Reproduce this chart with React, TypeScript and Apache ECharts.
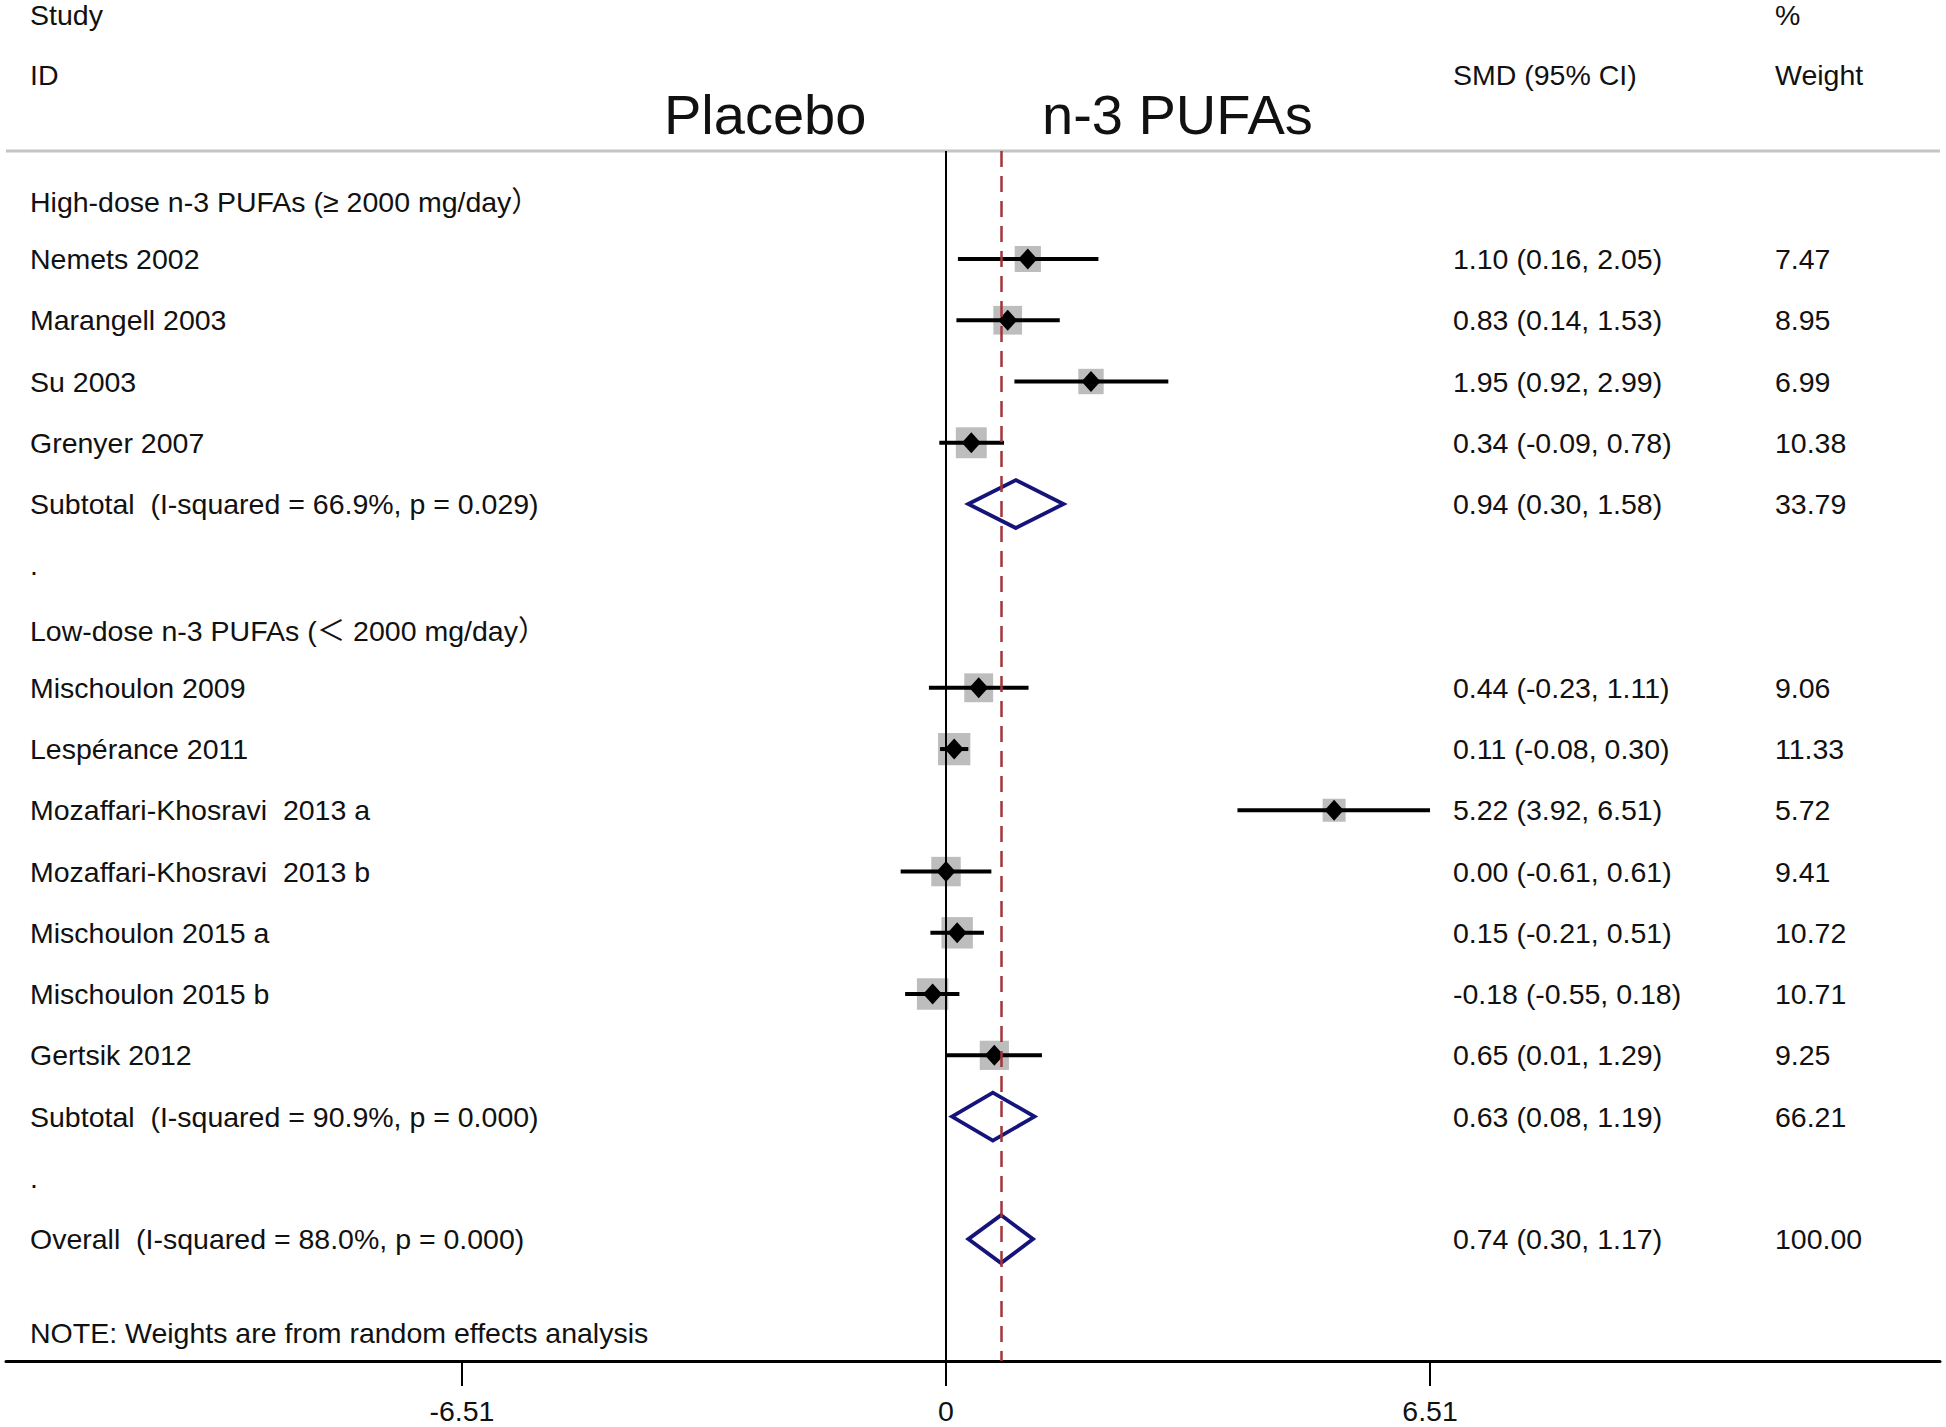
import React, { useEffect, useRef } from "react";
import * as echarts from "echarts";

// ---- data ----
const rowLabels = [
  "High-dose n-3 PUFAs (≥ 2000 mg/day）",
  "Nemets 2002",
  "Marangell 2003",
  "Su 2003",
  "Grenyer 2007",
  "Subtotal  (I-squared = 66.9%, p = 0.029)",
  ".",
  "Low-dose n-3 PUFAs (＜ 2000 mg/day）",
  "Mischoulon 2009",
  "Lespérance 2011",
  "Mozaffari-Khosravi  2013 a",
  "Mozaffari-Khosravi  2013 b",
  "Mischoulon 2015 a",
  "Mischoulon 2015 b",
  "Gertsik 2012",
  "Subtotal  (I-squared = 90.9%, p = 0.000)",
  ".",
  "Overall  (I-squared = 88.0%, p = 0.000)",
];
const headerRows = [0, 7];

const studyRows = [1, 2, 3, 4, 8, 9, 10, 11, 12, 13, 14];
const studySMD = [1.1, 0.83, 1.95, 0.34, 0.44, 0.11, 5.22, 0.0, 0.15, -0.18, 0.65];
const studyLo = [0.16, 0.14, 0.92, -0.09, -0.23, -0.08, 3.92, -0.61, -0.21, -0.55, 0.01];
const studyHi = [2.05, 1.53, 2.99, 0.78, 1.11, 0.3, 6.51, 0.61, 0.51, 0.18, 1.29];
const studyWeight = [7.47, 8.95, 6.99, 10.38, 9.06, 11.33, 5.72, 9.41, 10.72, 10.71, 9.25];

const pooledRows = [5, 15, 17];
const pooledSMD = [0.94, 0.63, 0.74];
const pooledLo = [0.3, 0.08, 0.3];
const pooledHi = [1.58, 1.19, 1.17];
const pooledWeight = [33.79, 66.21, 100.0];

const overallEffect = 0.74;
const tickValues = [-6.51, 0, 6.51];
const tickLabels = ["-6.51", "0", "6.51"];

const FONT = "'Liberation Sans', Arial, 'Noto Sans CJK SC', sans-serif";

export default function App() {
  const ref = useRef<HTMLDivElement>(null);

  useEffect(() => {
    const chart = echarts.init(ref.current!, null, { renderer: "svg" });

    const fmt = (s: number, l: number, h: number) =>
      `${s.toFixed(2)} (${l.toFixed(2)}, ${h.toFixed(2)})`;

    const tableData = rowLabels.map((lab, r) => {
      let smdText = "";
      let wText = "";
      const si = studyRows.indexOf(r);
      const pi = pooledRows.indexOf(r);
      if (si >= 0) {
        smdText = fmt(studySMD[si], studyLo[si], studyHi[si]);
        wText = studyWeight[si].toFixed(2);
      } else if (pi >= 0) {
        smdText = fmt(pooledSMD[pi], pooledLo[pi], pooledHi[pi]);
        wText = pooledWeight[pi].toFixed(2);
      }
      return { value: [0, r], lab, smdText, wText, header: headerRows.indexOf(r) >= 0 };
    });

    const studyData = studyRows.map((r, i) => [studySMD[i], r, studyLo[i], studyHi[i], studyWeight[i]]);
    const pooledData = pooledRows.map((r, i) => [pooledSMD[i], r, pooledLo[i], pooledHi[i]]);

    const NAME_X = 30;
    const SMD_X = 1453;
    const W_X = 1775;
    const FS = 28.5;
    const txt = (text: string, x: number, y: number, size = FS) => ({
      type: "text",
      x,
      y,
      style: {
        text,
        fontSize: size,
        fontFamily: FONT,
        fill: "#111",
        align: "left",
        verticalAlign: "middle",
      },
    });

    const option: any = {
      animation: false,
      backgroundColor: "#fff",
      grid: { left: 6, right: 6, top: 151, bottom: 66, containLabel: false },
      xAxis: {
        type: "value",
        min: -12.643,
        max: 13.369,
        splitLine: { show: false },
        axisLine: { show: true, onZero: false, lineStyle: { color: "#000", width: 3 } },
        axisTick: {
          show: true,
          customValues: tickValues,
          length: 25,
          lineStyle: { color: "#000", width: 2 },
        },
        axisLabel: {
          customValues: tickValues,
          margin: 36,
          fontSize: FS,
          fontFamily: FONT,
          color: "#111",
          formatter: (v: number) => {
            let best = 0;
            tickValues.forEach((t, i) => {
              if (Math.abs(t - v) < Math.abs(tickValues[best] - v)) best = i;
            });
            return tickLabels[best];
          },
        },
      },
      yAxis: {
        type: "value",
        inverse: true,
        min: -0.763,
        max: 18.99,
        show: false,
      },
      graphic: [
        txt("Study", NAME_X, 15),
        txt("ID", NAME_X, 75),
        txt("SMD (95% CI)", SMD_X, 75),
        txt("%", W_X, 15),
        txt("Weight", W_X, 75),
        txt("Placebo", 664, 114, 56),
        txt("n-3 PUFAs", 1042, 114, 56),
        txt("NOTE: Weights are from random effects analysis", NAME_X, 1333),
        {
          type: "line",
          shape: { x1: 6, y1: 151, x2: 1940, y2: 151 },
          style: { stroke: "#c4c4c4", lineWidth: 3 },
        },
      ],
      series: [
        {
          type: "line",
          data: [],
          z: 1,
          markLine: {
            silent: true,
            symbol: "none",
            label: { show: false },
            data: [
              { xAxis: 0, lineStyle: { color: "#000", width: 2, type: "solid" } },
              { xAxis: overallEffect, lineStyle: { color: "#a3353b", width: 2.5, type: [16, 9] } },
            ],
          },
        },
        {
          type: "custom",
          z: 3,
          encode: { x: 0, y: 1 },
          data: studyData,
          renderItem: (params: any, api: any) => {
            const smd = api.value(0);
            const row = api.value(1);
            const lo = api.value(2);
            const hi = api.value(3);
            const w = api.value(4);
            const c = api.coord([smd, row]);
            const a = api.coord([lo, row]);
            const b = api.coord([hi, row]);
            const side = 9.6 * Math.sqrt(w);
            return {
              type: "group",
              children: [
                {
                  type: "rect",
                  shape: { x: c[0] - side / 2, y: c[1] - side / 2, width: side, height: side },
                  style: { fill: "#bdbdbd" },
                },
                {
                  type: "line",
                  shape: { x1: a[0], y1: a[1], x2: b[0], y2: b[1] },
                  style: { stroke: "#000", lineWidth: 4 },
                },
                {
                  type: "polygon",
                  shape: {
                    points: [
                      [c[0] - 9.5, c[1]],
                      [c[0], c[1] - 10.5],
                      [c[0] + 9.5, c[1]],
                      [c[0], c[1] + 10.5],
                    ],
                  },
                  style: { fill: "#000" },
                },
              ],
            };
          },
        },
        {
          type: "custom",
          z: 3,
          encode: { x: 0, y: 1 },
          data: pooledData,
          renderItem: (params: any, api: any) => {
            const smd = api.value(0);
            const row = api.value(1);
            const lo = api.value(2);
            const hi = api.value(3);
            const c = api.coord([smd, row]);
            const a = api.coord([lo, row]);
            const b = api.coord([hi, row]);
            const h = 24;
            return {
              type: "polygon",
              shape: {
                points: [
                  [a[0], a[1]],
                  [c[0], c[1] - h],
                  [b[0], b[1]],
                  [c[0], c[1] + h],
                ],
              },
              style: { fill: "none", stroke: "#14147a", lineWidth: 3.8, lineJoin: "miter" },
            };
          },
        },
        {
          type: "custom",
          z: 4,
          encode: { x: 0, y: 1 },
          data: tableData,
          renderItem: (params: any, api: any) => {
            const item = tableData[params.dataIndex];
            const y = api.coord([0, api.value(1)])[1] + (item.header ? 4 : 0);
            const children: any[] = [txt(item.lab, NAME_X, y)];
            if (item.smdText) children.push(txt(item.smdText, SMD_X, y));
            if (item.wText) children.push(txt(item.wText, W_X, y));
            return { type: "group", children };
          },
        },
      ],
    };

    chart.setOption(option);
    return () => chart.dispose();
  }, []);

  return (
    <div
      ref={ref}
      style={{ position: "fixed", left: 0, top: 0, width: 1946, height: 1427, background: "#fff" }}
    />
  );
}
